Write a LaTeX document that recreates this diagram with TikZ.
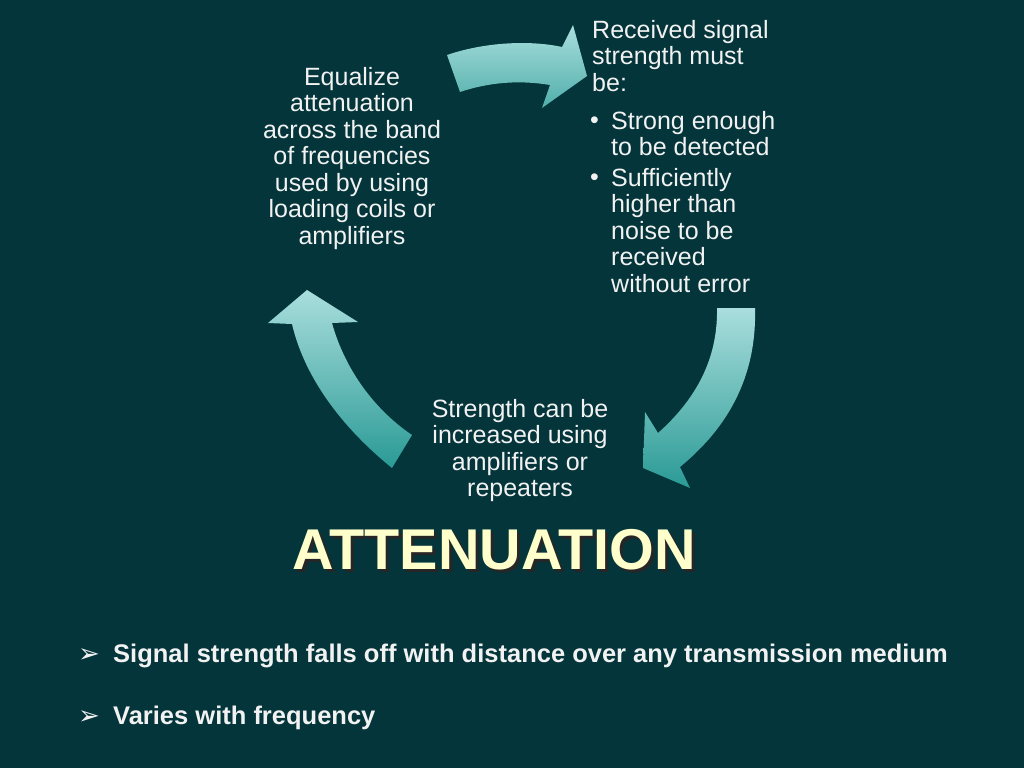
\documentclass[tikz,border=0pt]{standalone}
\usepackage{fontspec}
\setmainfont{Liberation Sans}
\newfontfamily\dejavu{DejaVu Sans}
\definecolor{bg}{HTML}{03353A}
\definecolor{lightc}{HTML}{A9DEDD}
\definecolor{darkc}{HTML}{2A9A95}
\definecolor{txt}{HTML}{F2F2F2}
\definecolor{ttl}{HTML}{FFFFCC}
\begin{document}
\begin{tikzpicture}[x=1pt,y=-1pt,
  body/.style={font=\fontsize{25}{26.5}\selectfont, text=txt, inner sep=0pt},
  bul/.style={font=\fontsize{25.5}{27}\selectfont\bfseries, text=txt, inner sep=0pt, anchor=base west}]
\fill[bg] (0,0) rectangle (1024,768);
\useasboundingbox (0,0) rectangle (1024,768);
% arrows
\shade[left color=lightc, right color=darkc!70!lightc, shading angle=0]
  (447,55) .. controls (485,42) and (530,40) .. (562,47) -- (573,25) -- (587,76) -- (542,108) -- (550,85)
  .. controls (520,80) and (490,82) .. (460,92) -- cycle;
\shade[top color=lightc, bottom color=darkc]
  (717,308) -- (755,308) .. controls (757,380) and (725,430) .. (680,467) -- (690,488) -- (643,468) -- (645,412) -- (658,433)
  .. controls (695,400) and (718,360) .. (717,308) -- cycle;
\shade[top color=lightc, bottom color=darkc]
  (392,468) .. controls (345,430) and (305,380) .. (292,324) -- (268,323) -- (307,290) -- (358,322) -- (332,323)
  .. controls (345,370) and (375,410) .. (412,435) -- cycle;
% texts
\node[body, align=center, anchor=north] (eq) at (352,67) {Equalize\\attenuation\\across the band\\of frequencies\\used by using\\loading coils or\\amplifiers};
\node[body, align=left, anchor=north west] (rs) at (592,20) {Received signal\\strength must\\be:};
\node[body, anchor=base west] (b1) at (590,128) {\textbullet};
\node[body, align=left, anchor=north west] (t1) at (611,111) {Strong enough\\to be detected};
\node[body, anchor=base west] (b2) at (590,185) {\textbullet};
\node[body, align=left, anchor=north west] (t2) at (611,168) {Sufficiently\\higher than\\noise to be\\received\\without error};
\node[body, align=center, anchor=north] (st) at (520,399) {Strength can be\\increased using\\amplifiers or\\repeaters};
% title
\node[font=\fontsize{57.5}{62}\selectfont\bfseries, text=black!85, inner sep=0pt] at (497,553) {ATTENUATION};
\node[font=\fontsize{57.5}{62}\selectfont\bfseries, text=ttl, inner sep=0pt] (title) at (494,550) {ATTENUATION};
% bullets
\node[bul, font=\dejavu\bfseries\fontsize{26}{28}\selectfont] (a1) at (78,662) {➢};
\node[bul] (l1) at (113,662) {Signal strength falls off with distance over any transmission medium};
\node[bul, font=\dejavu\bfseries\fontsize{26}{28}\selectfont] (a2) at (78,724) {➢};
\node[bul] (l2) at (113,724) {Varies with frequency};
\end{tikzpicture}
\end{document}
